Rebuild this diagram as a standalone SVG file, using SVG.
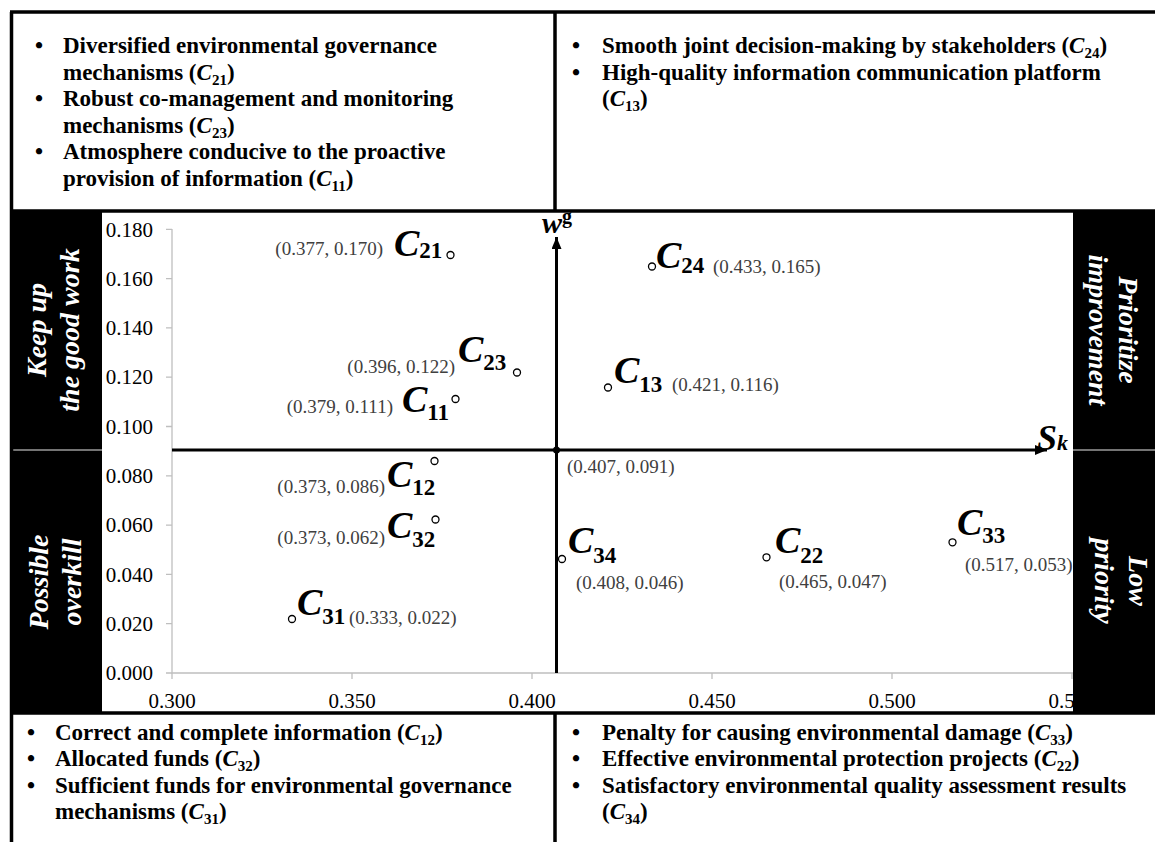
<svg xmlns="http://www.w3.org/2000/svg" width="1155" height="842" viewBox="0 0 1155 842">
<defs>
<style>
text { font-family: "Liberation Serif", "Times New Roman", serif; fill: #000; }
.bx { font-size: 23px; font-weight: bold; }
.i { font-style: italic; }
.bs { font-size: 15px; }
.tk { font-size: 21px; fill: #595959; }
.co { font-size: 19px; fill: #404040; }
.cl { font-size: 38px; font-weight: bold; font-style: italic; }
.cs { font-size: 23px; font-style: normal; }
.q { font-size: 28px; font-weight: bold; font-style: italic; fill: #fff; text-anchor: middle; }
.pt { fill: #fff; stroke: #000; stroke-width: 1.3; }
.grid { stroke: #bfbfbf; stroke-width: 1.3; fill: none; }
.frame { stroke: #000; stroke-width: 3.5; fill: none; }
.axis { stroke: #000; stroke-width: 3; fill: none; }
.sep { stroke: #9a9a9a; stroke-width: 1.5; }
</style>
<marker id="arr" viewBox="0 0 12 10" refX="12" refY="5" markerWidth="12" markerHeight="10" markerUnits="userSpaceOnUse" orient="auto">
<path d="M0,0 L12,5 L0,10 z" fill="#000"/>
</marker>
</defs>
<rect x="0" y="0" width="1155" height="842" fill="#fff"/>

<!-- chart scaffolding -->
<g id="chart-axes">
<path class="grid" d="M172,229 V673 H1073"/>
<path class="grid" d="M166,229.3 H172 M166,278.6 H172 M166,327.9 H172 M166,377.2 H172 M166,426.5 H172 M166,475.8 H172 M166,525.1 H172 M166,574.4 H172 M166,623.7 H172 M166,673 H172"/>
<path class="grid" d="M172,673 V679 M352,673 V679 M532,673 V679 M712,673 V679 M892,673 V679 M1072,673 V679"/>
<g class="tk" text-anchor="end">
<text x="153" y="236.5">0.180</text>
<text x="153" y="285.8">0.160</text>
<text x="153" y="335.1">0.140</text>
<text x="153" y="384.4">0.120</text>
<text x="153" y="433.7">0.100</text>
<text x="153" y="483">0.080</text>
<text x="153" y="532.3">0.060</text>
<text x="153" y="581.6">0.040</text>
<text x="153" y="630.9">0.020</text>
<text x="153" y="680.2">0.000</text>
</g>
<g class="tk" text-anchor="middle">
<text x="172" y="708">0.300</text>
<text x="352" y="708">0.350</text>
<text x="532" y="708">0.400</text>
<text x="712" y="708">0.450</text>
<text x="892" y="708">0.500</text>
<text x="1072" y="708">0.550</text>
</g>
</g>

<!-- connectors: the two quadrant axes -->
<g id="connectors">
<path class="axis" d="M556.5,673 V237" marker-end="url(#arr)"/>
<path class="axis" d="M172,450 H1047" marker-end="url(#arr)"/>
<circle cx="556.5" cy="450" r="3.5" fill="#000"/>
<text x="542" y="233" font-size="30" font-weight="bold" font-style="italic">w<tspan font-size="20" font-style="normal" dy="-10">g</tspan></text>
<text x="1037" y="450" font-size="36" font-weight="bold" font-style="italic">S<tspan font-size="22">k</tspan></text>
<text class="co" x="567" y="473" font-size="21">(0.407, 0.091)</text>
</g>

<!-- points -->
<g id="c21"><circle class="pt" cx="450.5" cy="255" r="3.5"/><text class="cl" x="394" y="256" font-size="42">C<tspan class="cs" font-size="25" dy="2">21</tspan></text><text class="co" x="383" y="255" text-anchor="end">(0.377, 0.170)</text></g>
<g id="c24"><circle class="pt" cx="652" cy="266.5" r="3.5"/><text class="cl" x="656" y="268" font-size="42">C<tspan class="cs" font-size="25" dy="5">24</tspan></text><text class="co" x="713" y="273">(0.433, 0.165)</text></g>
<g id="c23"><circle class="pt" cx="517" cy="372.5" r="3.5"/><text class="cl" x="458" y="362">C<tspan class="cs" dy="8">23</tspan></text><text class="co" x="455" y="373" text-anchor="end">(0.396, 0.122)</text></g>
<g id="c11"><circle class="pt" cx="455.5" cy="399" r="3.5"/><text class="cl" x="402" y="412">C<tspan class="cs" dy="8">11</tspan></text><text class="co" x="393" y="413" text-anchor="end">(0.379, 0.111)</text></g>
<g id="c13"><circle class="pt" cx="608" cy="387.5" r="3.5"/><text class="cl" x="614" y="383">C<tspan class="cs" dy="9">13</tspan></text><text class="co" x="672" y="391">(0.421, 0.116)</text></g>
<g id="c12"><circle class="pt" cx="434.5" cy="461" r="3.5"/><text class="cl" x="387" y="487">C<tspan class="cs" dy="8">12</tspan></text><text class="co" x="385" y="493" text-anchor="end">(0.373, 0.086)</text></g>
<g id="c32"><circle class="pt" cx="435.5" cy="519.5" r="3.5"/><text class="cl" x="387" y="538">C<tspan class="cs" dy="9">32</tspan></text><text class="co" x="385" y="544" text-anchor="end">(0.373, 0.062)</text></g>
<g id="c31"><circle class="pt" cx="292" cy="619" r="3.5"/><text class="cl" x="297" y="615">C<tspan class="cs" dy="9">31</tspan></text><text class="co" x="349" y="624">(0.333, 0.022)</text></g>
<g id="c34"><circle class="pt" cx="562" cy="559" r="3.5"/><text class="cl" x="568" y="553">C<tspan class="cs" dy="10">34</tspan></text><text class="co" x="576" y="589">(0.408, 0.046)</text></g>
<g id="c22"><circle class="pt" cx="766.5" cy="557.3" r="3.5"/><text class="cl" x="775" y="553">C<tspan class="cs" dy="10">22</tspan></text><text class="co" x="779" y="588">(0.465, 0.047)</text></g>
<g id="c33"><circle class="pt" cx="952.5" cy="542.3" r="3.5"/><text class="cl" x="957" y="535">C<tspan class="cs" dy="8">33</tspan></text><text class="co" x="965" y="571">(0.517, 0.053)</text></g>

<!-- quadrant bands -->
<g id="band-keep">
<rect x="10" y="211" width="92" height="239" fill="#000"/>
<text class="q" transform="translate(46,330) rotate(-90)">Keep up</text>
<text class="q" transform="translate(79,330) rotate(-90)">the good work</text>
</g>
<g id="band-overkill">
<rect x="10" y="450" width="92" height="263" fill="#000"/>
<text class="q" transform="translate(48,582) rotate(-90)">Possible</text>
<text class="q" transform="translate(81,582) rotate(-90)">overkill</text>
</g>
<g id="band-prioritize">
<rect x="1073" y="211" width="82" height="239" fill="#000"/>
<text class="q" transform="translate(1119,330) rotate(90)">Prioritize</text>
<text class="q" transform="translate(1089,330) rotate(90)">improvement</text>
</g>
<g id="band-low">
<rect x="1073" y="450" width="82" height="263" fill="#000"/>
<text class="q" transform="translate(1129,581) rotate(90)">Low</text>
<text class="q" transform="translate(1095,581) rotate(90)">priority</text>
</g>
<path class="sep" d="M10,450 H102 M1073,450 H1155"/>

<!-- text boxes -->
<g id="box-top-left" class="bx">
<text x="35" y="53">•</text><text x="63" y="53">Diversified environmental governance</text>
<text x="63" y="80">mechanisms (<tspan class="i">C</tspan><tspan class="bs" dy="5">21</tspan><tspan dy="-5">)</tspan></text>
<text x="35" y="106">•</text><text x="63" y="106">Robust co-management and monitoring</text>
<text x="63" y="133">mechanisms (<tspan class="i">C</tspan><tspan class="bs" dy="5">23</tspan><tspan dy="-5">)</tspan></text>
<text x="35" y="159">•</text><text x="63" y="159">Atmosphere conducive to the proactive</text>
<text x="63" y="186">provision of information (<tspan class="i">C</tspan><tspan class="bs" dy="5">11</tspan><tspan dy="-5">)</tspan></text>
</g>
<g id="box-top-right" class="bx">
<text x="572" y="53">•</text><text x="602" y="53">Smooth joint decision-making by stakeholders (<tspan class="i">C</tspan><tspan class="bs" dy="5">24</tspan><tspan dy="-5">)</tspan></text>
<text x="572" y="80">•</text><text x="602" y="80">High-quality information communication platform</text>
<text x="602" y="106">(<tspan class="i">C</tspan><tspan class="bs" dy="5">13</tspan><tspan dy="-5">)</tspan></text>
</g>
<g id="box-bottom-left" class="bx">
<text x="27" y="740">•</text><text x="55" y="740">Correct and complete information (<tspan class="i">C</tspan><tspan class="bs" dy="5">12</tspan><tspan dy="-5">)</tspan></text>
<text x="27" y="766">•</text><text x="55" y="766">Allocated funds (<tspan class="i">C</tspan><tspan class="bs" dy="5">32</tspan><tspan dy="-5">)</tspan></text>
<text x="27" y="793">•</text><text x="55" y="793">Sufficient funds for environmental governance</text>
<text x="55" y="819">mechanisms (<tspan class="i">C</tspan><tspan class="bs" dy="5">31</tspan><tspan dy="-5">)</tspan></text>
</g>
<g id="box-bottom-right" class="bx">
<text x="572" y="740">•</text><text x="602" y="740">Penalty for causing environmental damage (<tspan class="i">C</tspan><tspan class="bs" dy="5">33</tspan><tspan dy="-5">)</tspan></text>
<text x="572" y="766">•</text><text x="602" y="766">Effective environmental protection projects (<tspan class="i">C</tspan><tspan class="bs" dy="5">22</tspan><tspan dy="-5">)</tspan></text>
<text x="572" y="793">•</text><text x="602" y="793">Satisfactory environmental quality assessment results</text>
<text x="602" y="819">(<tspan class="i">C</tspan><tspan class="bs" dy="5">34</tspan><tspan dy="-5">)</tspan></text>
</g>

<!-- frame -->
<path class="frame" d="M10,12 H1155 M11.5,12 V842 M555,12 V211 M10,211 H1155 M10,713 H1155 M555,713 V842"/>
</svg>
